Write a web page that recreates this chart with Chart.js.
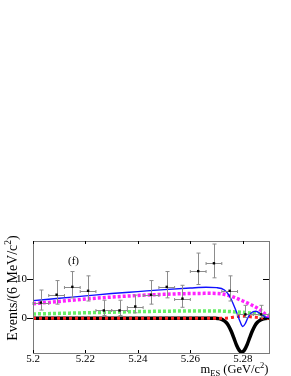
<!DOCTYPE html>
<html>
<head>
<meta charset="UTF-8">
<title>mES projection (f)</title>
<script src="https://cdn.jsdelivr.net/npm/chart.js"></script>
<style>
  html, body { margin: 0; padding: 0; background: #fff; }
</style>
</head>
<body>
<canvas id="chart" width="291" height="376"></canvas>
<script>
// data points: bin centres (GeV/c^2), events per bin, asymmetric errors
var binCenters = [5.203, 5.209, 5.215, 5.221, 5.227, 5.233, 5.239, 5.245, 5.251, 5.257, 5.263, 5.269, 5.275, 5.281, 5.287];
var counts     = [4, 6, 8, 7, 2, 2, 3, 6, 8, 5, 12, 14, 7, 1, 1];
var errLow     = [1.9, 2.4, 2.8, 2.6, 1.3, 1.3, 1.6, 2.4, 2.8, 2.2, 3.4, 3.7, 2.6, 0.8, 0.8];
var errHigh    = [3.2, 3.6, 3.9, 3.8, 2.6, 2.6, 2.9, 3.6, 3.9, 3.4, 4.6, 4.9, 3.8, 2.3, 2.3];
var halfBin    = 0.003;

// fit curves
var totalX = [5.200, 5.210, 5.220, 5.230, 5.240, 5.250, 5.260, 5.266, 5.270, 5.273, 5.275, 5.276, 5.277, 5.278, 5.279, 5.280, 5.281, 5.282, 5.283, 5.284, 5.285, 5.286, 5.287, 5.288, 5.289, 5.290];
var totalY = [4.5, 5.1, 5.7, 6.3, 6.8, 7.3, 7.7, 7.9, 7.8, 7.2, 5.6, 4.2, 2.6, 0.9, -0.9, -2.1, -1.3, 0.2, 1.2, 1.7, 1.8, 1.5, 1.0, 0.6, 0.2, 0.0];

var contX = [5.200, 5.210, 5.220, 5.230, 5.240, 5.250, 5.260, 5.268, 5.272, 5.276, 5.280, 5.283, 5.286, 5.288, 5.2895, 5.290];
var contY = [3.7, 4.3, 4.9, 5.4, 5.8, 6.1, 6.3, 6.35, 6.2, 5.5, 4.4, 3.5, 2.4, 1.4, 0.5, 0.0];

var bbX = [5.200, 5.220, 5.240, 5.260, 5.270, 5.278, 5.284, 5.288, 5.2895, 5.290];
var bbY = [1.1, 1.4, 1.7, 1.85, 1.85, 1.6, 1.3, 0.8, 0.4, 0.0];

var peakX = [5.200, 5.272, 5.275, 5.278, 5.280, 5.282, 5.285, 5.288, 5.290];
var peakY = [0, 0, 0.15, 0.45, 0.5, 0.45, 0.25, 0.1, 0];

var sigX = [5.200, 5.2696, 5.2706, 5.2716, 5.2726, 5.2736, 5.2746, 5.2756, 5.2766, 5.2776, 5.2786, 5.2796, 5.2806, 5.2816, 5.2826, 5.2836, 5.2846, 5.2856, 5.2866, 5.2876, 5.2886, 5.290];
var sigY = [0, 0, -0.07, -0.19, -0.47, -1.0, -1.9, -3.3, -5.0, -6.8, -8.1, -8.6, -8.1, -6.8, -5.0, -3.3, -1.9, -1.0, -0.47, -0.19, -0.07, 0];

// axes
var xMin = 5.2, xMax = 5.29;
var yMin = -8.83, yMax = 19.67;
var xTicks = [5.2, 5.22, 5.24, 5.26, 5.28];
var yTicks = [0, 10];

var serif = 'Liberation Serif';

function pts(xs, ys) {
  var out = [];
  for (var i = 0; i < xs.length; i++) out.push({ x: xs[i], y: ys[i] });
  return out;
}

function curve(xs, ys, color, width, dash) {
  return {
    data: pts(xs, ys),
    showLine: true,
    borderColor: color,
    borderWidth: width,
    borderDash: dash || [],
    pointRadius: 0,
    fill: false,
    cubicInterpolationMode: 'monotone'
  };
}

// error bars drawn just before the markers
var errorBars = {
  id: 'errorBars',
  beforeDatasetDraw: function(chart, args) {
    if (args.index !== 0) return;
    var ctx = chart.ctx, xs = chart.scales.x, ys = chart.scales.y;
    ctx.save();
    ctx.strokeStyle = '#8c8c8c';
    ctx.lineWidth = 1;
    for (var i = 0; i < binCenters.length; i++) {
      var px = Math.round(xs.getPixelForValue(binCenters[i])) + 0.5;
      var py = Math.round(ys.getPixelForValue(counts[i])) + 0.5;
      var x1 = xs.getPixelForValue(binCenters[i] - halfBin);
      var x2 = xs.getPixelForValue(binCenters[i] + halfBin);
      var yHi = ys.getPixelForValue(counts[i] + errHigh[i]);
      var yLo = ys.getPixelForValue(counts[i] - errLow[i]);
      ctx.beginPath();
      ctx.moveTo(px, yHi); ctx.lineTo(px, yLo);
      ctx.moveTo(px - 2, yHi); ctx.lineTo(px + 2, yHi);
      ctx.moveTo(px - 2, yLo); ctx.lineTo(px + 2, yLo);
      ctx.moveTo(x1, py); ctx.lineTo(x2, py);
      ctx.moveTo(x1, py - 1.5); ctx.lineTo(x1, py + 1.5);
      ctx.moveTo(x2, py - 1.5); ctx.lineTo(x2, py + 1.5);
      ctx.stroke();
    }
    ctx.restore();
  }
};

function drawParts(ctx, parts, x, y) {
  var cx = x;
  for (var i = 0; i < parts.length; i++) {
    var p = parts[i];
    ctx.font = p.size + 'px "' + serif + '"';
    ctx.fillText(p.text, cx, y + (p.dy || 0));
    cx += ctx.measureText(p.text).width;
  }
}

function partsWidth(ctx, parts) {
  var w = 0;
  for (var i = 0; i < parts.length; i++) {
    ctx.font = parts[i].size + 'px "' + serif + '"';
    w += ctx.measureText(parts[i].text).width;
  }
  return w;
}

// frame, ticks, titles and the panel label
var frame = {
  id: 'frame',
  afterDraw: function(chart) {
    var ctx = chart.ctx, a = chart.chartArea;
    var xs = chart.scales.x, ys = chart.scales.y;
    ctx.save();
    ctx.strokeStyle = '#7a7a7a';
    ctx.lineWidth = 1;
    ctx.strokeRect(Math.round(a.left) + 0.5, Math.round(a.top) + 0.5, Math.round(a.right - a.left), Math.round(a.bottom - a.top));
    ctx.strokeStyle = '#000';
    ctx.beginPath();
    xTicks.forEach(function(v) {
      var px = Math.round(xs.getPixelForValue(v)) + 0.5;
      ctx.moveTo(px, a.bottom); ctx.lineTo(px, a.bottom - 3);
      ctx.moveTo(px, a.top); ctx.lineTo(px, a.top + 3);
    });
    yTicks.forEach(function(v) {
      var py = Math.round(ys.getPixelForValue(v)) + 0.5;
      ctx.moveTo(a.left - 6, py); ctx.lineTo(a.left, py);
      ctx.moveTo(a.right - 6, py); ctx.lineTo(a.right, py);
    });
    ctx.stroke();

    ctx.fillStyle = '#000';
    ctx.textBaseline = 'alphabetic';
    ctx.textAlign = 'left';

    // x title
    var xt = [
      { text: 'm', size: 12.5 },
      { text: 'ES', size: 8.5, dy: 2.5 },
      { text: ' (GeV/c', size: 12.5 },
      { text: '2', size: 8.5, dy: -5 },
      { text: ')', size: 12.5 }
    ];
    drawParts(ctx, xt, 268.5 - partsWidth(ctx, xt), 373);

    // y title
    var yt = [
      { text: 'Events/(6 MeV/c', size: 14 },
      { text: '2', size: 9.5, dy: -6 },
      { text: ')', size: 14 }
    ];
    ctx.save();
    ctx.translate(16.5, 288);
    ctx.rotate(-Math.PI / 2);
    drawParts(ctx, yt, -partsWidth(ctx, yt) / 2, 0);
    ctx.restore();

    // panel label
    ctx.font = '11px "' + serif + '"';
    ctx.fillText('(f)', 68, 264);
    ctx.restore();
  }
};

var ctx = document.getElementById('chart').getContext('2d');
var chart = new Chart(ctx, {
  type: 'scatter',
  data: {
    datasets: [
      {
        data: pts(binCenters, counts),
        pointStyle: 'rect',
        pointRadius: 1.7,
        backgroundColor: '#000',
        borderColor: '#000',
        borderWidth: 0,
        showLine: false
      },
      curve(totalX, totalY, '#1010ff', 1.4),
      curve(contX, contY, '#ff22ff', 3.5, [3, 2]),
      curve(bbX, bbY, '#66ee66', 3.5, [3, 2]),
      curve(peakX, peakY, '#ff2020', 3, [3, 3]),
      curve(sigX, sigY, '#000000', 3.5)
    ]
  },
  options: {
    responsive: false,
    animation: false,
    layout: { padding: { top: 241, right: 22, left: 0, bottom: 0 } },
    plugins: { legend: { display: false }, tooltip: { enabled: false } },
    scales: {
      x: {
        type: 'linear',
        min: xMin,
        max: xMax,
        afterBuildTicks: function(scale) {
          scale.ticks = xTicks.map(function(v) { return { value: v }; });
        },
        afterFit: function(scale) { scale.height = 23; },
        grid: { display: false, drawTicks: false },
        border: { display: false },
        ticks: {
          autoSkip: false,
          maxRotation: 0,
          padding: 0,
          color: '#000',
          font: { family: serif, size: 11 },
          callback: function(v) { return String(v); }
        }
      },
      y: {
        type: 'linear',
        min: yMin,
        max: yMax,
        afterBuildTicks: function(scale) {
          scale.ticks = yTicks.map(function(v) { return { value: v }; });
        },
        afterFit: function(scale) { scale.width = 33; },
        grid: { display: false, drawTicks: false },
        border: { display: false },
        ticks: {
          padding: 6,
          color: '#000',
          font: { family: serif, size: 11 },
          callback: function(v) { return String(v); }
        }
      }
    }
  },
  plugins: [errorBars, frame]
});
</script>
</body>
</html>
